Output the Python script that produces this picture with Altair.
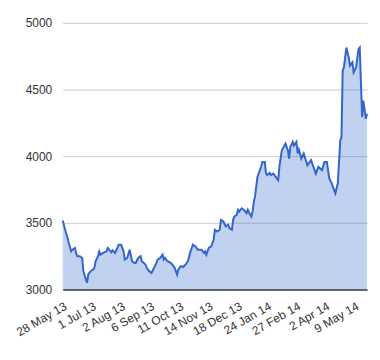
import altair as alt
import pandas as pd

# trading-day index (x) and closing value (y)
trading_day = [0, 2, 4, 5, 7, 8, 10, 11, 12, 14, 16, 17, 19, 20, 21, 23, 25, 26, 27, 29,
               30, 31, 34, 36, 37, 40, 41, 43, 46, 48, 50, 51, 53, 55, 57, 59, 60, 62, 64, 65,
               68, 69, 71, 73, 75, 77, 78, 80, 82, 83, 84, 86, 88, 90, 92, 94, 95, 97, 99, 101,
               103, 105, 106, 107, 109, 111, 114, 116, 117, 118, 120, 122, 124, 125, 127, 129, 130, 132, 134, 136,
               137, 139, 140, 141, 143, 144, 145, 147, 149, 151, 152, 154, 155, 156, 157, 158, 160, 161, 163, 164,
               166, 167, 168, 170, 171, 173, 175, 177, 178, 180, 181, 183, 185, 186, 187, 189, 190, 192, 193, 194,
               196, 198, 201, 204, 206, 208, 210, 213, 215, 217, 219, 221, 224, 226, 228, 229, 230, 231, 233, 235,
               236, 238, 239, 241, 243, 244, 246, 247, 249, 250]
close = [3517, 3448, 3386, 3348, 3286, 3298, 3311, 3274, 3249, 3249, 3236, 3137, 3075, 3050, 3112, 3137, 3149, 3162, 3211, 3249,
         3286, 3261, 3278, 3286, 3311, 3278, 3293, 3274, 3336, 3336, 3286, 3224, 3236, 3298, 3211, 3199, 3199, 3236, 3249, 3211,
         3187, 3162, 3137, 3124, 3162, 3199, 3224, 3236, 3261, 3224, 3236, 3211, 3204, 3187, 3162, 3112, 3149, 3174, 3168, 3187,
         3215, 3286, 3311, 3336, 3323, 3298, 3298, 3274, 3286, 3261, 3311, 3323, 3373, 3448, 3435, 3448, 3522, 3510, 3473, 3485,
         3460, 3448, 3522, 3547, 3560, 3597, 3584, 3609, 3597, 3572, 3597, 3560, 3547, 3584, 3659, 3696, 3845, 3870, 3920, 3957,
         3957, 3870, 3858, 3875, 3858, 3870, 3845, 3821, 3920, 4044, 4060, 4094, 4044, 3982, 4069, 4107, 4080, 4107, 4020, 4050,
         3982, 4020, 3932, 3970, 3920, 3870, 3920, 3895, 3957, 3957, 3833, 3796, 3721, 3796, 4119, 4140, 4641, 4666, 4815, 4741,
         4679, 4704, 4629, 4666, 4803, 4815, 4293, 4417, 4281, 4318]

tick_days = [0, 24, 48, 72, 96, 120, 144, 168, 192, 216, 240]
tick_labels = ["28 May 13", "1 Jul 13", "2 Aug 13", "6 Sep 13", "11 Oct 13", "14 Nov 13",
               "18 Dec 13", "24 Jan 14", "27 Feb 14", "2 Apr 14", "9 May 14"]
y_ticks = [3000, 3500, 4000, 4500, 5000]

df = pd.DataFrame({"day": trading_day, "close": close})

label_expr = "[" + ",".join("'" + t + "'" for t in tick_labels) + "][round(datum.value / 24)]"

x = alt.X("day:Q",
          scale=alt.Scale(domain=[0, 250], nice=False, zero=False),
          axis=alt.Axis(values=tick_days, labelExpr=label_expr, labelAngle=-30,
                        grid=False, ticks=False, domain=True, domainColor="#666666",
                        domainWidth=2, labelPadding=11, title=None, labelOverlap=False))
y = alt.Y("close:Q",
          scale=alt.Scale(domain=[3000, 5000], nice=False, zero=False),
          axis=alt.Axis(values=y_ticks, format="d", grid=True, gridColor="#cccccc", domain=False,
                        ticks=False, labelPadding=11, title=None))

area = alt.Chart(df).mark_area(color="#3366CC", opacity=0.3).encode(
    x=x, y=y, y2=alt.datum(3000))
line = alt.Chart(df).mark_line(color="#3366CC", strokeWidth=2).encode(x=x, y=y)

chart = alt.layer(area, line).properties(
    width=306, height=268,
    autosize=alt.AutoSizeParams(type="none"),
    padding={"left": 55, "top": 14, "right": 5, "bottom": 70},
).configure_view(stroke=None).configure_axis(
    labelFont="Liberation Sans", labelFontSize=12, labelColor="#333333")

chart.save("out.html", embed_options={"renderer": "svg", "actions": False})
